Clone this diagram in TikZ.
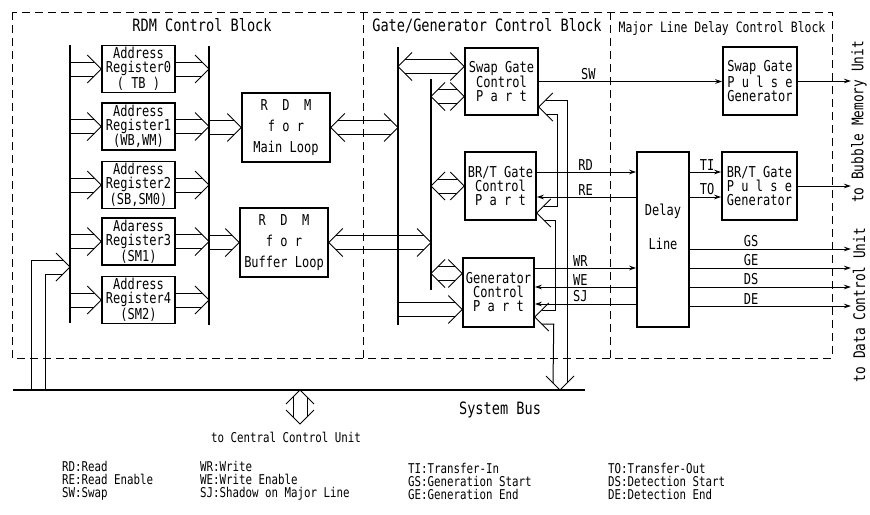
\documentclass[tikz,border=0pt]{standalone}
\usepackage{fontspec}
\setmainfont{DejaVu Sans Mono}[FakeStretch=0.8]
\usetikzlibrary{calc,arrows.meta}

\newcommand{\bxf}{\fontsize{15}{14}\selectfont}
\newcommand{\ttlf}{\fontsize{17}{17}\selectfont}
\newcommand{\lgf}{\fontsize{13.5}{13}\selectfont}

% double-line bus arrows
\newcommand{\chevR}[1]{\draw[bus] ($(#1)+(-14,-14)$) -- (#1) -- ($(#1)+(-14,14)$);}
\newcommand{\chevL}[1]{\draw[bus] ($(#1)+(14,-14)$) -- (#1) -- ($(#1)+(14,14)$);}
\newcommand{\chevD}[1]{\draw[bus] ($(#1)+(-14,-14)$) -- (#1) -- ($(#1)+(14,-14)$);}
\newcommand{\chevU}[1]{\draw[bus] ($(#1)+(-14,14)$) -- (#1) -- ($(#1)+(14,14)$);}
\newcommand{\busR}[2]{\draw[bus] ($(#1)+(0,-7)$) -- ($(#2)+(-7,-7)$) ($(#1)+(0,7)$) -- ($(#2)+(-7,7)$); \chevR{#2}}
\newcommand{\busLR}[2]{\draw[bus] ($(#1)+(7,-7)$) -- ($(#2)+(-7,-7)$) ($(#1)+(7,7)$) -- ($(#2)+(-7,7)$); \chevL{#1}\chevR{#2}}
\newcommand{\busUD}[2]{\draw[bus] ($(#1)+(-7,7)$) -- ($(#2)+(-7,-7)$) ($(#1)+(7,7)$) -- ($(#2)+(7,-7)$); \chevU{#1}\chevD{#2}}

\tikzset{
  blk/.style={draw, line width=1.5pt, align=center, font=\bxf, inner sep=1pt},
  lbl/.style={font=\bxf, align=center, inner sep=1.5pt},
  ttl/.style={font=\ttlf, inner sep=0pt},
  leg/.style={font=\lgf, align=left, anchor=west, inner sep=0pt},
  side/.style={font=\fontsize{16}{16}\selectfont, rotate=90, inner sep=0pt},
  bus/.style={line width=1pt},
  busline/.style={line width=1.8pt},
  sig/.style={line width=1pt, -{Stealth[length=7pt,width=4.5pt]}},
  frame/.style={line width=1pt, dash pattern=on 8pt off 5pt},
}

\begin{document}
\begin{tikzpicture}[x=1pt, y=-1pt]
    \useasboundingbox (0,0) rectangle (870,514);

    % Blocks
    \draw[frame] (12,12) rectangle (832,358);
    \draw[frame] (363,12) -- (363,358);
    \draw[frame] (610,12) -- (610,358);
    \node[ttl] (rdmttl) at (202,25) {RDM Control Block};
    \node[ttl] (gatettl) at (487,26) {Gate/Generator Control Block};
    \node[ttl, font=\fontsize{14.3}{14.3}\selectfont] (delayttl) at (722,29) {Major Line Delay Control Block};

    % RDM control block
    \coordinate (lbtop) at (70,45);  \coordinate (lbbot) at (70,323);
    \coordinate (rbtop) at (209,46); \coordinate (rbbot) at (209,325);
    \draw[busline] (lbtop) -- (lbbot);
    \draw[busline] (rbtop) -- (rbbot);

    \foreach \i/\y/\nm/\tg in {0/69/Address/( TB ), 1/126.5/Address/(WB{,}WM),
                               2/185/Address/(SB{,}SM0), 3/241.5/Adaress/(SM1), 4/300/Address/(SM2)} {
        \node[blk, minimum width=73pt, minimum height=47pt] (reg\i) at (138.5,\y) {\nm\\Register\i\\\tg};
        \busR{lbtop |- reg\i.west}{reg\i.west}
        \busR{reg\i.east}{rbtop |- reg\i.east}
    }

    \node[blk, minimum width=88pt, minimum height=69pt] (mainloop) at (286,127.5) {R~~D~~M\\[7pt]f~o~r\\[7pt]Main Loop};
    \node[blk, minimum width=88pt, minimum height=69pt] (bufloop) at (284,242.5) {R~~D~~M\\[7pt]f~o~r\\[7pt]Buffer Loop};
    \busR{rbtop |- mainloop.west}{mainloop.west}
    \busR{rbtop |- bufloop.west}{bufloop.west}

    % Gate/Generator control block
    \coordinate (batop) at (398,47); \coordinate (babot) at (398,325);
    \coordinate (bbtop) at (431,79); \coordinate (bbbot) at (431,290);
    \draw[busline] (batop) -- (babot);
    \draw[busline] (bbtop) -- (bbbot);

    \node[blk, minimum width=73pt, minimum height=67pt] (swapctl) at (501.5,81.5) {Swap Gate\\Control\\P~a~r~t};
    \node[blk, minimum width=71pt, minimum height=68pt] (brtctl) at (500.5,186) {BR/T Gate\\Control\\P~a~r~t};
    \node[blk, minimum width=71pt, minimum height=69pt] (genctl) at (498.5,292.5) {Generator\\Control\\P~a~r~t};

    \busLR{mainloop.east}{batop |- mainloop.east}
    \busLR{bufloop.east}{bbtop |- bufloop.east}
    \coordinate (sw1) at ([yshift=15pt]swapctl.west);
    \coordinate (sw2) at ([yshift=-15pt]swapctl.west);
    \coordinate (gn1) at ([yshift=19pt]genctl.west);
    \coordinate (gn2) at ([yshift=-17pt]genctl.west);
    \busLR{batop |- sw1}{sw1}
    \busLR{bbtop |- sw2}{sw2}
    \busLR{bbtop |- brtctl.west}{brtctl.west}
    \busLR{bbtop |- gn1}{gn1}
    \busR{batop |- gn2}{gn2}

    % link to system bus
    \coordinate (swr) at ([yshift=-25.5pt]swapctl.east);
    \coordinate (brr) at ([yshift=-27pt]brtctl.east);
    \coordinate (gnr) at ([yshift=-24.5pt]genctl.east);
    \coordinate (sbtip) at (560,390);
    \chevL{swr} \chevL{brr} \chevL{gnr} \chevD{sbtip}
    \draw[bus] ($(sbtip)+(7,-7)$) |- ($(swr)+(7,-7)$);
    \draw[bus] ($(swr)+(7,7)$) -- ++(12,0) |- ($(brr)+(7,-7)$);
    \draw[bus] ($(brr)+(7,7)$) -- ++(12,0) |- ($(gnr)+(7,-7)$);
    \draw[bus] ($(gnr)+(7,7)$) -- ++(12,0) -- ($(sbtip)+(-7,-7)$);

    % Major line delay control block
    \node[blk, minimum width=74pt, minimum height=68pt] (swappg) at (760,81) {Swap Gate\\P~u~l~s~e\\Generator};
    \node[blk, minimum width=75pt, minimum height=68pt] (brtpg) at (759.5,186) {BR/T Gate\\P~u~l~s~e\\Generator};
    \node[blk, minimum width=52pt, minimum height=175pt] (delay) at (663,239.5) {};
    \node[lbl] (delaytxt) at (663,227) {Delay\\[18pt]Line};

    % Signals
    \coordinate (rim) at (851,0);
    \coordinate (rdy) at ([yshift=14pt]brtctl.east);
    \coordinate (rey) at ([yshift=-11pt]brtctl.east);
    \coordinate (wry) at ([yshift=24.5pt]genctl.east);
    \coordinate (wey) at ([yshift=5.5pt]genctl.east);
    \coordinate (sjy) at ([yshift=-11.5pt]genctl.east);
    \draw[sig] (swapctl.east) -- node[lbl, above, pos=0.27] (swl) {SW} (swapctl.east -| swappg.west);
    \draw[sig] (swappg.east) -- (swappg.east -| rim);
    \draw[sig] (rdy) -- node[lbl, above, pos=0.49] (rdl) {RD} (rdy -| delay.west);
    \draw[sig] (rey -| delay.west) -- node[lbl, above, pos=0.51] (rel) {RE} (rey);
    \draw[sig] (wry) -- node[lbl, above, pos=0.45] (wrl) {WR} (wry -| delay.west);
    \draw[sig] (wey -| delay.west) -- node[lbl, above, pos=0.55] (wel) {WE} (wey);
    \draw[sig] (sjy -| delay.west) -- node[lbl, above, pos=0.55] (sjl) {SJ} (sjy);
    \draw[sig] (delay.east |- rdy) -- node[lbl, above, pos=0.55] (til) {TI} (brtpg.west |- rdy);
    \draw[sig] (delay.east |- rey) -- node[lbl, above, pos=0.55] (tol) {TO} (brtpg.west |- rey);
    \draw[sig] (brtpg.east) -- (brtpg.east -| rim);
    \foreach \s/\dy in {GS/-9.5pt, GE/-28.5pt, DS/-47.5pt, DE/-66.5pt} {
        \coordinate (out\s) at ([yshift=\dy]delay.east);
        \draw[sig] (out\s) -- node[lbl, above, pos=0.38] (lbl\s) {\s} (out\s -| rim);
    }
    \node[side] (bmu) at (859,122) {to Bubble Memory Unit};
    \node[side] (dcu) at (859,305) {to Data Control Unit};

    % System bus
    \coordinate (sbl) at (13,390); \coordinate (sbr) at (585,390);
    \draw[busline] (sbl) -- (sbr);
    \coordinate (lbin) at (70,267);
    \chevR{lbin}
    \draw[bus] (31,390) |- ($(lbin)+(-7,-7)$);
    \draw[bus] (45,390) |- ($(lbin)+(-7,7)$);
    \node[font=\fontsize{17}{17}\selectfont] (sbtxt) at (500,410) {System Bus};
    \coordinate (ccu1) at (300,390); \coordinate (ccu2) at (300,424);
    \busUD{ccu1}{ccu2}
    \node[font=\fontsize{13.5}{13.5}\selectfont] (ccu) at (286,437) {to Central Control Unit};

    % Legend
    \node[leg] (leg1) at (62,481) {RD:Read\\RE:Read Enable\\SW:Swap};
    \node[leg] (leg2) at (200,481) {WR:Write\\WE:Write Enable\\SJ:Shadow on Major Line};
    \node[leg] (leg3) at (408,481) {TI:Transfer-In\\GS:Generation Start\\GE:Generation End};
    \node[leg] (leg4) at (608,481) {TO:Transfer-Out\\DS:Detection Start\\DE:Detection End};
\end{tikzpicture}
\end{document}
